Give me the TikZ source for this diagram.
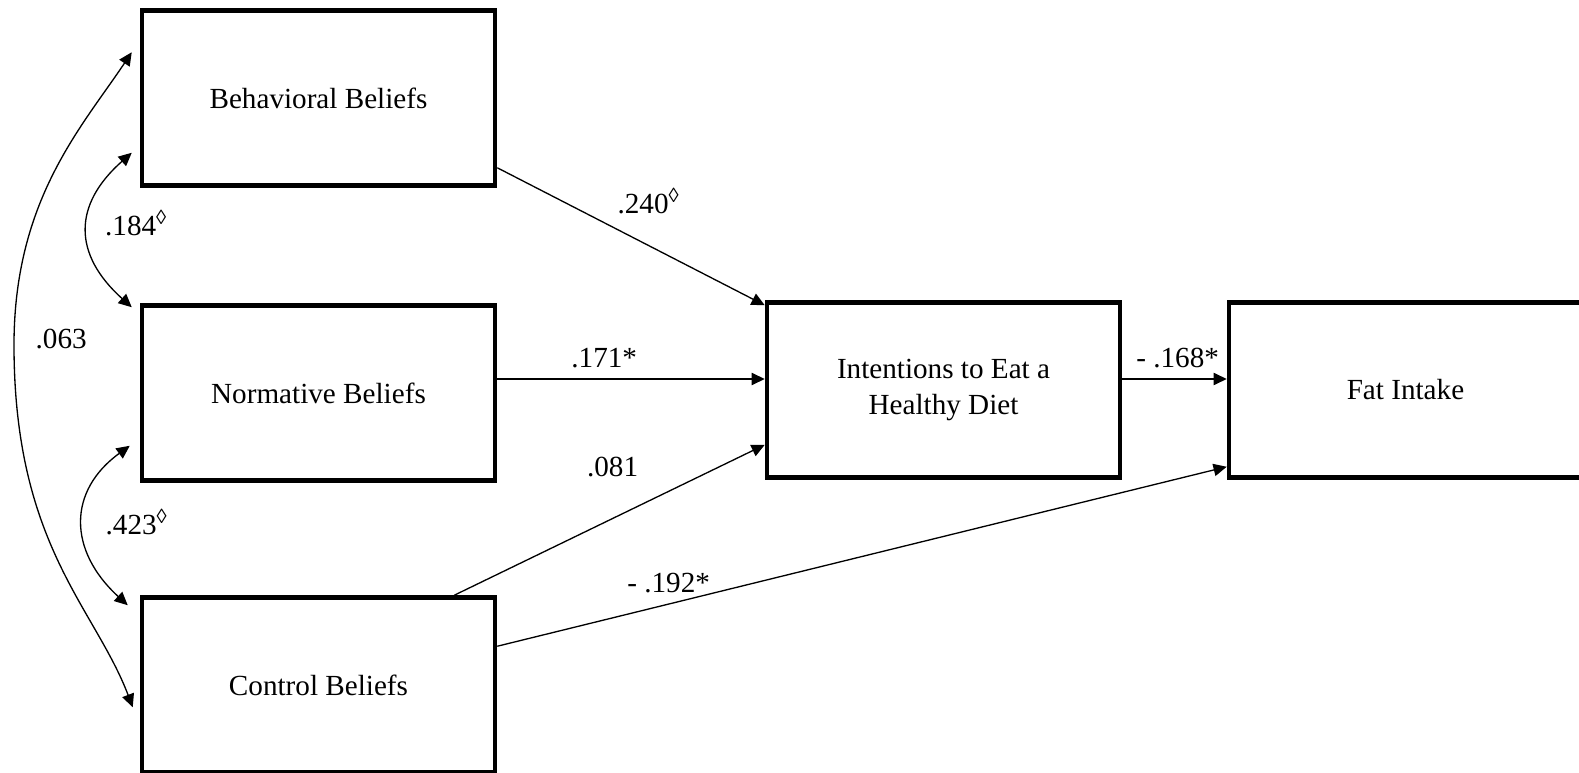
\documentclass[tikz,border=0pt]{standalone}
\usepackage{fontspec}
\setmainfont{Liberation Serif}
\usetikzlibrary{positioning, arrows.meta, calc}

\begin{document}
\begin{tikzpicture}[
    x=0.02cm, y=-0.02cm,
    construct/.style={rectangle, draw, line width=2.6pt, minimum width=7.06cm, minimum height=3.5cm, align=center, font=\fontsize{16.6}{20.5}\selectfont},
    path_arrow/.style={-{Triangle[length=7.5pt, width=7pt]}, line width=0.75pt},
    corr_arrow/.style={{Triangle[length=7.5pt, width=7pt]}-{Triangle[length=7.5pt, width=7pt]}, line width=0.75pt},
    coef_label/.style={font=\fontsize{16.6}{20}\selectfont, inner sep=0.2cm}
]

    \useasboundingbox (0,0) rectangle (1579,773);

    % --- CONSTRUCTS ---
    \node[construct] (norm_beliefs) at (318.5,393) {Normative Beliefs};
    \node[construct, above=2.31cm of norm_beliefs] (beh_beliefs) {Behavioral Beliefs};
    \node[construct, below=2.25cm of norm_beliefs] (ctrl_beliefs) {Control Beliefs};
    \node[construct] (intent) at (943.5,390) {Intentions to Eat a\\Healthy Diet};
    \node[construct, right=2.09cm of intent] (fat_intake) {Fat Intake};

    % --- END POINTS ---
    \coordinate (intent_in) at ($(intent.west)+(0,-11)$);
    \coordinate (intent_out) at ($(intent.east)+(0,-11)$);
    \coordinate (beh_c1) at ($(beh_beliefs.north west)+(-8,44)$);
    \coordinate (beh_c2) at ($(beh_beliefs.south west)+(-8,-35)$);
    \coordinate (norm_c1) at ($(norm_beliefs.north west)+(-8,4)$);
    \coordinate (norm_c2) at ($(norm_beliefs.south west)+(-10,-37)$);
    \coordinate (ctrl_c1) at ($(ctrl_beliefs.north west)+(-12,10)$);
    \coordinate (ctrl_c2) at ($(ctrl_beliefs.north west)+(-7,112)$);
    \coordinate (corr_mid) at (14,345);

    % --- PATHS ---
    \draw[path_arrow] ($(beh_beliefs.south east)+(0,-20)$) -- node[coef_label, pos=0.41, above right] {.240\textsuperscript{◊}} ($(intent.north west)+(0,5)$);
    \draw[path_arrow] (norm_beliefs.east |- intent_in) -- node[coef_label, pos=0.40, above] {.171*} (intent_in);
    \draw[path_arrow] ($(ctrl_beliefs.north east)+(-43,0)$) -- node[coef_label, pos=0.51, above=0.62cm] {.081} ($(intent.south west)+(0,-35)$);
    \draw[path_arrow] ($(ctrl_beliefs.north east)+(0,51)$) -- node[coef_label, pos=0.235, above] {- .192*} ($(fat_intake.south west)+(0,-13)$);
    \draw[path_arrow] (intent_out) -- node[coef_label, pos=0.53, above] {- .168*} (fat_intake.west |- intent_out);

    % --- CORRELATIONS ---
    \draw[corr_arrow] (beh_c2) .. controls +(-59,52) and +(-59,-53) .. node[coef_label, pos=0.5, right=0.14cm, yshift=0.14cm] {.184\textsuperscript{◊}} (norm_c1);
    \draw[corr_arrow] (norm_c2) .. controls +(-62,45) and +(-60,-55) .. node[coef_label, pos=0.5, right=0.24cm] {.423\textsuperscript{◊}} (ctrl_c1);
    \draw[corr_arrow] (beh_c1) .. controls +(-50,75) and +(0,-145) .. (corr_mid) node[coef_label, right=0.22cm, yshift=0.12cm] {.063}
        .. controls +(0,200) and +(-38,-100) .. (ctrl_c2);

\end{tikzpicture}
\end{document}
